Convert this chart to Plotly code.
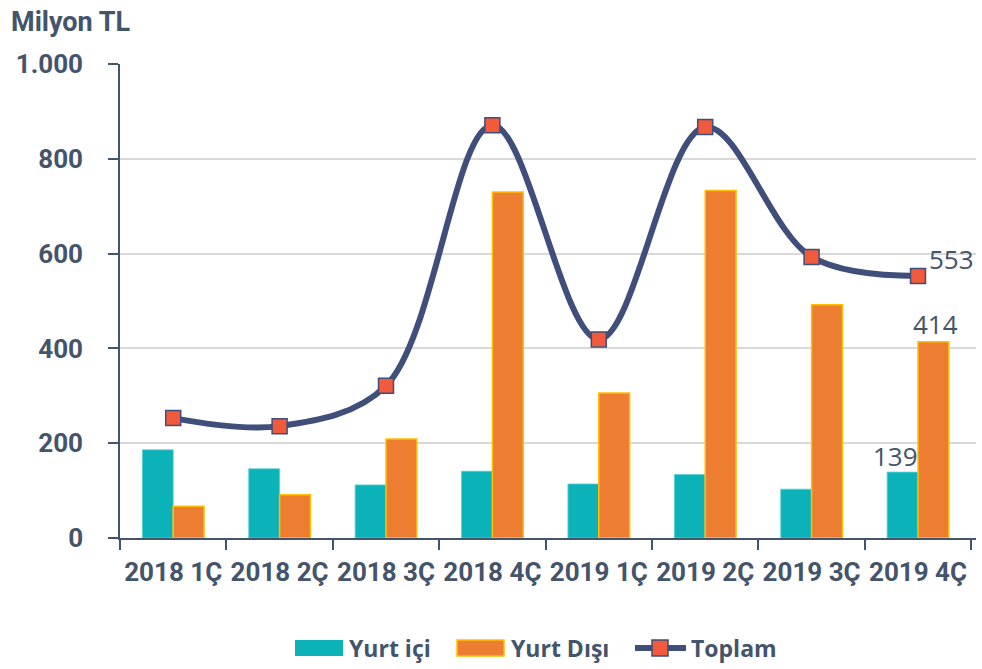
import plotly.graph_objects as go

categories = ["2018 1Ç", "2018 2Ç", "2018 3Ç", "2018 4Ç", "2019 1Ç", "2019 2Ç", "2019 3Ç", "2019 4Ç"]
yurt_ici = [186, 146, 112, 141, 114, 134, 103, 139]
yurt_disi = [67, 91, 209, 730, 306, 733, 492, 414]
toplam = [253, 236, 321, 871, 419, 867, 593, 553]
y_ticks = [0, 200, 400, 600, 800, 1000]
legend_names = ["Yurt içi", "Yurt Dışı", "Toplam"]

TXT = "#44546A"
TEAL = "#0BB3B9"
ORANGE = "#ED7D31"
GOLD = "#FFC000"
NAVY = "#3F4F7A"
RED = "#F15A3A"
BOLDF = "Roboto, Liberation Sans, sans-serif"

# plot area in pixels (for legend placement in paper coords)
L, R, T, B = 120, 976, 64, 538
def px(xp):
    return (xp - L) / (R - L)
def py(yp):
    return (B - yp) / (B - T)

fig = go.Figure()
fig.add_trace(go.Bar(
    x=categories, y=yurt_ici, name=legend_names[0],
    marker=dict(color=TEAL, line=dict(color="#5CCFD3", width=0.8)),
))
fig.add_trace(go.Bar(
    x=categories, y=yurt_disi, name=legend_names[1],
    marker=dict(color=ORANGE, line=dict(color=GOLD, width=1.5)),
))
fig.add_trace(go.Scatter(
    x=categories, y=toplam, name=legend_names[2], mode="lines+markers",
    line=dict(color=NAVY, width=6, shape="spline", smoothing=1.0),
    marker=dict(symbol="square", size=15, color=RED, line=dict(color=NAVY, width=1.5)),
    cliponaxis=False,
))

label_font = dict(family="Open Sans, sans-serif", size=26, color=TXT)
annotations = [
    dict(x=categories[-1], y=toplam[-1], text=str(toplam[-1]), showarrow=False,
         xanchor="left", yanchor="middle", xshift=9, yshift=17, font=label_font),
    dict(x=categories[-1], y=yurt_disi[-1], text=str(yurt_disi[-1]), showarrow=False,
         xanchor="center", yanchor="bottom", xshift=17, yshift=-2, font=label_font),
    dict(x=categories[-1], y=yurt_ici[-1], text=str(yurt_ici[-1]), showarrow=False,
         xanchor="center", yanchor="bottom", xshift=-23, yshift=-4, font=label_font),
    dict(text="Milyon TL", xref="paper", yref="paper",
         x=px(9), y=py(22), xanchor="left", yanchor="middle", showarrow=False,
         font=dict(family=BOLDF, size=27, color=TXT, weight="bold")),
]

leg_font = dict(family="Open Sans, sans-serif", size=23, color=TXT, weight="bold")
ly = py(648)
annotations += [
    dict(text=legend_names[0], xref="paper", yref="paper", x=px(347), y=ly,
         xanchor="left", yanchor="middle", showarrow=False, font=leg_font),
    dict(text=legend_names[1], xref="paper", yref="paper", x=px(509), y=ly,
         xanchor="left", yanchor="middle", showarrow=False, font=leg_font),
    dict(text=legend_names[2], xref="paper", yref="paper", x=px(689), y=ly,
         xanchor="left", yanchor="middle", showarrow=False, font=leg_font),
]
shapes = [
    dict(type="rect", xref="paper", yref="paper", x0=px(295), x1=px(343), y0=py(640), y1=py(656),
         fillcolor=TEAL, line=dict(width=0)),
    dict(type="rect", xref="paper", yref="paper", x0=px(457), x1=px(504), y0=py(640), y1=py(656),
         fillcolor=ORANGE, line=dict(color=GOLD, width=1.5)),
    dict(type="line", xref="paper", yref="paper", x0=px(635), x1=px(686), y0=ly, y1=ly,
         line=dict(color=NAVY, width=6)),
    dict(type="rect", xref="paper", yref="paper", x0=px(652), x1=px(668), y0=py(640), y1=py(656),
         fillcolor=RED, line=dict(color=NAVY, width=1.5)),
]

fig.update_layout(
    width=982, height=669,
    margin=dict(l=L, r=982 - R, t=T, b=669 - B, autoexpand=False),
    plot_bgcolor="white", paper_bgcolor="white",
    barmode="group", bargap=0.42, bargroupgap=0,
    separators=",.",
    showlegend=False,
    annotations=annotations,
    shapes=shapes,
)
fig.update_xaxes(
    showline=True, linecolor=TXT, linewidth=1.5,
    ticks="outside", ticklen=10, tickcolor=TXT, tickwidth=1.5, tickson="boundaries",
    tickangle=0, automargin=False,
    tickfont=dict(family=BOLDF, size=26, color=TXT, weight="bold"), ticklabelstandoff=10,
    showgrid=False,
)
fig.update_yaxes(
    range=[0, 1000], tickvals=y_ticks, tickformat=",d",
    showline=True, linecolor=TXT, linewidth=1.5, automargin=False,
    ticks="outside", ticklen=10, tickcolor=TXT, tickwidth=1.5,
    tickfont=dict(family=BOLDF, size=26, color=TXT, weight="bold"), ticklabelstandoff=20,
    showgrid=True, gridcolor="#D9D9D9", gridwidth=1.5,
    zeroline=False,
)
fig.write_html("out.html", config={"displayModeBar": False},
               post_script="document.body.style.margin='0';document.body.style.overflow='hidden';")
